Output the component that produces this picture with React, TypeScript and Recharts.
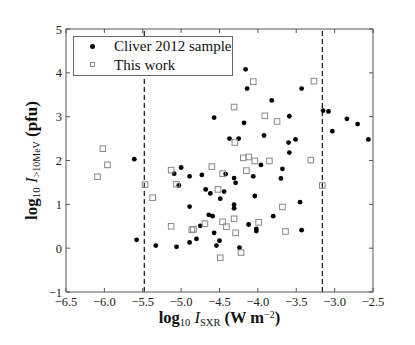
import React from 'react';
import { ScatterChart, Scatter, XAxis, YAxis, ReferenceLine } from 'recharts';

// Cliver 2012 sample (filled dots)
const cliverX = [
  -5.61, -5.58, -5.33, -5.06, -5.09, -5.0, -5.03, -4.89, -4.89, -4.89,
  -4.8, -4.75, -4.73, -4.68, -4.62, -4.64, -4.59, -4.57, -4.57, -4.54,
  -4.5, -4.49, -4.44, -4.42, -4.37, -4.31, -4.31, -4.31, -4.29, -4.25,
  -4.24, -4.18, -4.16, -4.14, -4.12, -4.06, -4.04, -4.02, -4.02, -3.96,
  -3.92, -3.82, -3.8, -3.7, -3.68, -3.6, -3.59, -3.59, -3.51, -3.45,
  -3.43, -3.43, -3.15, -3.08, -3.03, -2.84, -2.7, -2.56,
];
const cliverY = [
  2.03, 0.19, 0.06, 0.03, 1.7, 1.84, 1.43, 1.64, 0.95, 0.13,
  0.21, 0.51, 1.67, 1.34, 1.25, 0.76, 0.73, 2.98, 0.35, 0.06,
  0.17, 1.13, 1.29, 1.69, 2.5, 1.6, 0.99, 0.91, 1.49, 2.5,
  0.01, 2.86, 4.08, 3.64, 0.54, 1.64, 1.19, 0.44, 0.39, 1.9,
  2.57, 3.37, 0.73, 1.59, 1.81, 2.41, 3.01, 2.18, 2.48, 1.05,
  3.64, 0.41, 3.14, 3.12, 2.67, 2.95, 2.83, 2.48,
];

// This work (open squares)
const workX = [
  -6.09, -6.02, -5.96, -5.47, -5.37, -5.13, -5.06, -5.13, -4.86, -4.84,
  -4.69, -4.6, -4.52, -4.46, -4.46, -4.41, -4.49, -4.31, -4.3, -4.31,
  -4.29, -4.22, -4.19, -4.12, -4.15, -4.06, -4.04, -3.99, -3.91, -3.85,
  -3.75, -3.68, -3.64, -3.31, -3.27, -3.16,
];
const workY = [
  1.63, 2.27, 1.9, 1.45, 1.15, 1.78, 1.46, 0.5, 0.42, 0.43,
  0.56, 1.86, 1.34, 1.7, 0.6, 0.49, -0.22, 3.22, 2.41, 0.67,
  0.35, -0.1, 2.06, 2.08, 1.77, 3.8, 1.99, 0.59, 3.02, 1.99,
  2.89, 0.94, 0.38, 2.01, 3.81, 1.43,
];

const xTicks = [-6.5, -6.0, -5.5, -5.0, -4.5, -4.0, -3.5, -3.0, -2.5];
const yTicks = [-1, 0, 1, 2, 3, 4, 5];
const thresholds = [-5.48, -3.16];

const cliverData = cliverX.map((x, i) => ({ x, y: cliverY[i] }));
const workData = workX.map((x, i) => ({ x, y: workY[i] }));

const W = 415;
const H = 345;
const LEFT = 66;
const TOP = 29;
const RIGHT = 42;
const BOTTOM = 53;
const PLOT_BOTTOM = H - BOTTOM;
const PLOT_RIGHT = W - RIGHT;
const FRAME = '#555';
const FONT = '"Liberation Serif", "DejaVu Serif", serif';

const fmt = (v: number, digits: number) => {
  const s = Math.abs(v).toFixed(digits);
  return v < 0 ? '\u2212' + s : s;
};

const BottomTick = (props: any) => {
  const { x, payload } = props;
  return (
    <g>
      <line x1={x} x2={x} y1={PLOT_BOTTOM} y2={PLOT_BOTTOM - 4} stroke={FRAME} />
      <text x={x} y={305.5} textAnchor="middle" fontFamily={FONT} fontSize={12.5} fill="#222">
        {fmt(payload.value, 1)}
      </text>
    </g>
  );
};

const TopTick = (props: any) => (
  <line x1={props.x} x2={props.x} y1={TOP} y2={TOP + 4} stroke={FRAME} />
);

const LeftTick = (props: any) => {
  const { y, payload } = props;
  return (
    <g>
      <line x1={LEFT} x2={LEFT + 4} y1={y} y2={y} stroke={FRAME} />
      <text x={62} y={y + 4.5} textAnchor="end" fontFamily={FONT} fontSize={12.5} fill="#222">
        {fmt(payload.value, 0)}
      </text>
    </g>
  );
};

const RightTick = (props: any) => (
  <line x1={PLOT_RIGHT} x2={PLOT_RIGHT - 4} y1={props.y} y2={props.y} stroke={FRAME} />
);

const Dot = (p: any) => <circle cx={p.cx} cy={p.cy} r={2.4} fill="#000" />;
const Square = (p: any) => (
  <rect x={p.cx - 2.8} y={p.cy - 2.8} width={5.6} height={5.6} fill="none" stroke="#888" strokeWidth={1} />
);

const XLabel = () => (
  <text x={(LEFT + PLOT_RIGHT) / 2} y={323} textAnchor="middle" fontFamily={FONT} fontSize={16.5} fill="#111">
    <tspan fontWeight="bold">log</tspan>
    <tspan fontSize={10.5} dy={3}>10</tspan>
    <tspan dy={-3}> </tspan>
    <tspan fontStyle="italic">I</tspan>
    <tspan fontSize={10.5} dy={3}>SXR</tspan>
    <tspan fontWeight="bold" dy={-3}> (W m</tspan>
    <tspan fontSize={10} dy={-5.5}>{'\u2212'}2</tspan>
    <tspan fontWeight="bold" dy={5.5}>)</tspan>
  </text>
);

const YLabel = () => {
  const cx = 37;
  const cy = (TOP + PLOT_BOTTOM) / 2;
  return (
    <text
      x={cx}
      y={cy}
      transform={`rotate(-90 ${cx} ${cy})`}
      textAnchor="middle"
      fontFamily={FONT}
      fontSize={17}
      fill="#111"
    >
      <tspan fontWeight="bold">log</tspan>
      <tspan fontSize={11} dy={3}>10</tspan>
      <tspan dy={-3}> </tspan>
      <tspan fontStyle="italic">I</tspan>
      <tspan fontSize={10} dy={3}>{'>10MeV'}</tspan>
      <tspan fontWeight="bold" dy={-3}> (pfu)</tspan>
    </text>
  );
};

const LegendBox = () => (
  <div
    style={{
      position: 'absolute',
      left: 73,
      top: 36,
      width: 160,
      height: 40,
      border: '1.5px solid #666',
      background: '#fff',
      fontFamily: FONT,
      fontSize: 15,
      color: '#111',
      boxSizing: 'border-box',
      whiteSpace: 'nowrap',
    }}
  >
    <div style={{ position: 'absolute', left: 16, top: 6.5, width: 5, height: 5, borderRadius: '50%', background: '#000' }} />
    <div style={{ position: 'absolute', left: 40, top: 0, lineHeight: '18px' }}>Cliver 2012 sample</div>
    <div style={{ position: 'absolute', left: 16, top: 25, width: 5, height: 5, border: '1px solid #888', boxSizing: 'border-box' }} />
    <div style={{ position: 'absolute', left: 40, top: 18.5, lineHeight: '18px' }}>This work</div>
  </div>
);

export default function App() {
  return (
    <div style={{ position: 'absolute', left: 0, top: 0, width: W, height: H, background: '#fff' }}>
      <ScatterChart width={W} height={H} margin={{ top: 0, right: 0, bottom: 0, left: 0 }}>
        <XAxis
          xAxisId="bottom"
          type="number"
          dataKey="x"
          domain={[-6.5, -2.5]}
          ticks={xTicks}
          interval={0}
          height={BOTTOM}
          allowDataOverflow
          axisLine={{ stroke: FRAME }}
          tickLine={false}
          tick={BottomTick}
          label={<XLabel />}
        />
        <XAxis
          xAxisId="top"
          orientation="top"
          type="number"
          dataKey="x"
          domain={[-6.5, -2.5]}
          ticks={xTicks}
          interval={0}
          height={TOP}
          allowDataOverflow
          axisLine={{ stroke: FRAME }}
          tickLine={false}
          tick={TopTick}
        />
        <YAxis
          yAxisId="left"
          type="number"
          dataKey="y"
          domain={[-1, 5]}
          ticks={yTicks}
          interval={0}
          width={LEFT}
          allowDataOverflow
          axisLine={{ stroke: FRAME }}
          tickLine={false}
          tick={LeftTick}
          label={<YLabel />}
        />
        <YAxis
          yAxisId="right"
          orientation="right"
          type="number"
          dataKey="y"
          domain={[-1, 5]}
          ticks={yTicks}
          interval={0}
          width={RIGHT}
          allowDataOverflow
          axisLine={{ stroke: FRAME }}
          tickLine={false}
          tick={RightTick}
        />
        {thresholds.map((t) => (
          <ReferenceLine
            key={t}
            x={t}
            xAxisId="bottom"
            yAxisId="left"
            stroke="#111"
            strokeWidth={1.2}
            strokeDasharray="5 3"
          />
        ))}
        <Scatter
          name="Cliver 2012 sample"
          data={cliverData}
          xAxisId="bottom"
          yAxisId="left"
          shape={Dot}
          isAnimationActive={false}
        />
        <Scatter
          name="This work"
          data={workData}
          xAxisId="bottom"
          yAxisId="left"
          shape={Square}
          isAnimationActive={false}
        />
      </ScatterChart>
      <LegendBox />
    </div>
  );
}
